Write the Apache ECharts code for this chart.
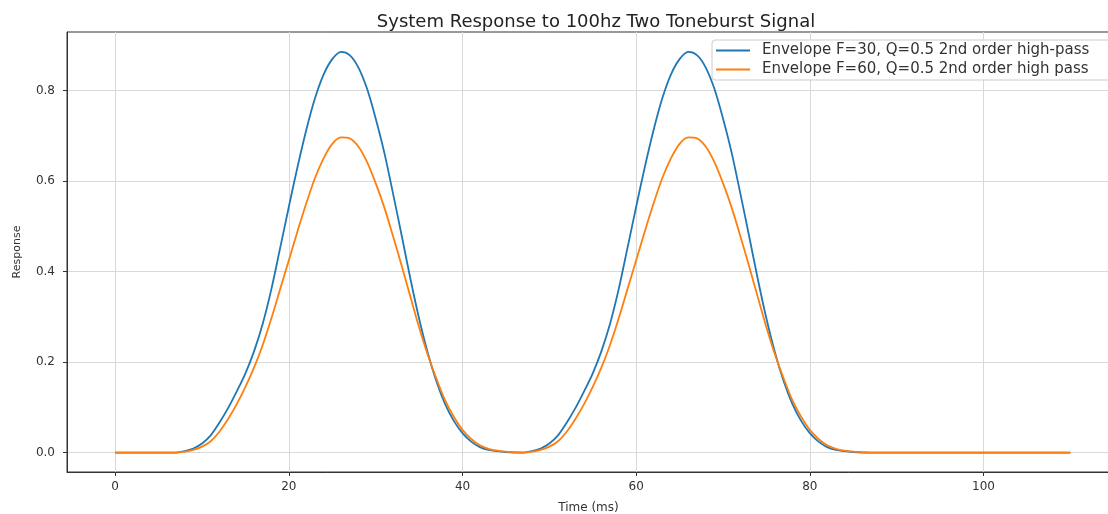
<!DOCTYPE html>
<html>
<head>
<meta charset="utf-8">
<script src="https://cdn.jsdelivr.net/npm/echarts@6/dist/echarts.min.js"></script>
<style>
  html, body { margin: 0; padding: 0; background: #fff; }
  #chart { width: 1108px; height: 514px; }
</style>
</head>
<body>
<div id="chart"></div>
<script>
// Time samples (ms)
const timeMs = [0, 4, 7,
  8, 9, 10, 11, 12, 13, 14, 15, 16, 17, 18, 19, 20, 21, 22, 23, 24, 25, 26, 27,
  28, 29, 30, 31, 32, 33, 34, 35, 36, 37, 38, 39, 40, 41, 42, 43, 44, 45, 46, 47,
  48, 49, 50, 51, 52, 53, 54, 55, 56, 57, 58, 59, 60, 61, 62, 63, 64, 65, 66, 67,
  68, 69, 70, 71, 72, 73, 74, 75, 76, 77, 78, 79, 80, 81, 82, 83, 84, 85, 86, 87,
  95, 110];

// Envelope F=30, Q=0.5 2nd order high-pass
const blueResp = [0, 0, 0,
  0.003, 0.009, 0.02, 0.038, 0.066, 0.098, 0.135, 0.175, 0.224, 0.285, 0.362, 0.452, 0.543, 0.631, 0.712, 0.782, 0.835, 0.869, 0.885, 0.878,
  0.851, 0.804, 0.738, 0.662, 0.572, 0.479, 0.384, 0.296, 0.22, 0.157, 0.107, 0.07, 0.043, 0.024, 0.012, 0.006, 0.003, 0.001, 0, 0,
  0.003, 0.009, 0.02, 0.038, 0.066, 0.098, 0.135, 0.175, 0.224, 0.285, 0.362, 0.452, 0.543, 0.631, 0.712, 0.782, 0.835, 0.869, 0.885, 0.878,
  0.851, 0.804, 0.738, 0.662, 0.572, 0.479, 0.384, 0.296, 0.22, 0.157, 0.107, 0.07, 0.043, 0.024, 0.012, 0.006, 0.003, 0.001, 0, 0,
  0, 0];

// Envelope F=60, Q=0.5 2nd order high pass
const orangeResp = [0, 0, 0,
  0.002, 0.006, 0.013, 0.025, 0.046, 0.074, 0.107, 0.145, 0.188, 0.238, 0.297, 0.361, 0.425, 0.489, 0.55, 0.606, 0.65, 0.682, 0.696, 0.694,
  0.676, 0.642, 0.595, 0.541, 0.478, 0.412, 0.344, 0.277, 0.216, 0.163, 0.115, 0.079, 0.05, 0.03, 0.016, 0.008, 0.004, 0.002, 0.001, 0,
  0.002, 0.006, 0.013, 0.025, 0.046, 0.074, 0.107, 0.145, 0.188, 0.238, 0.297, 0.361, 0.425, 0.489, 0.55, 0.606, 0.65, 0.682, 0.696, 0.694,
  0.676, 0.642, 0.595, 0.541, 0.478, 0.412, 0.344, 0.277, 0.216, 0.163, 0.115, 0.079, 0.05, 0.03, 0.016, 0.008, 0.004, 0.002, 0.001, 0,
  0, 0];

const xTicks = [0, 20, 40, 60, 80, 100];
const yTicks = [0, 0.2, 0.4, 0.6, 0.8];

const seriesNames = [
  'Envelope F=30, Q=0.5 2nd order high-pass',
  'Envelope F=60, Q=0.5 2nd order high pass'
];
const titleText = 'System Response to 100hz Two Toneburst Signal';

const chart = echarts.init(document.getElementById('chart'), null, { renderer: 'canvas' });

const toPairs = (vals) => timeMs.map((t, i) => [t, vals[i]]);

const option = {
  animation: false,
  backgroundColor: '#ffffff',
  textStyle: { fontFamily: 'DejaVu Sans' },
  title: {
    text: titleText,
    left: 591,
    textAlign: 'center',
    top: 8,
    textStyle: { fontFamily: 'DejaVu Sans', fontSize: 18, fontWeight: 'normal', color: '#222' }
  },
  grid: {
    left: 67, top: 32, right: -2, bottom: 42,
    containLabel: false,
    outerBoundsMode: 'none',
    show: true, borderColor: '#333', borderWidth: 1, backgroundColor: 'transparent'
  },
  legend: {
    orient: 'vertical',
    left: 712, top: 40,
    icon: 'rect',
    itemWidth: 34, itemHeight: 2, itemGap: 4,
    padding: [3, 24, 3, 4],
    backgroundColor: 'rgba(255,255,255,0.85)',
    borderColor: '#cccccc', borderWidth: 1, borderRadius: 3,
    textStyle: { fontFamily: 'DejaVu Sans', fontSize: 15, color: '#333', padding: [0, 0, 0, 7] },
    data: seriesNames
  },
  xAxis: {
    type: 'value',
    min: -5.55, max: 114.57,
    name: 'Time (ms)',
    nameLocation: 'middle',
    nameGap: 30,
    nameTextStyle: { fontFamily: 'DejaVu Sans', fontSize: 12, color: '#333' },
    axisLine: { show: true, onZero: false, lineStyle: { color: '#333', width: 1 } },
    axisTick: { show: true, inside: false, length: 4, lineStyle: { color: '#333' }, customValues: xTicks },
    axisLabel: { customValues: xTicks, fontSize: 12, color: '#333', margin: 9 },
    splitLine: { show: true, lineStyle: { color: '#d9d9d9', width: 1 } }
  },
  yAxis: {
    type: 'value',
    min: -0.043, max: 0.929,
    name: 'Response',
    nameLocation: 'middle',
    nameGap: 44,
    nameRotate: 90,
    nameTextStyle: { fontFamily: 'DejaVu Sans', fontSize: 11, color: '#333' },
    axisLine: { show: true, onZero: false, lineStyle: { color: '#333', width: 1 } },
    axisTick: { show: true, inside: false, length: 4, lineStyle: { color: '#333' }, customValues: yTicks },
    axisLabel: {
      customValues: yTicks, fontSize: 12, color: '#333', margin: 12,
      formatter: (v) => v.toFixed(1)
    },
    splitLine: { show: true, lineStyle: { color: '#d9d9d9', width: 1 } }
  },
  series: [
    {
      name: seriesNames[0], type: 'line', data: toPairs(blueResp),
      symbol: 'none', showSymbol: false, smooth: 0.3,
      lineStyle: { color: '#1f77b4', width: 1.8 }, itemStyle: { color: '#1f77b4' }
    },
    {
      name: seriesNames[1], type: 'line', data: toPairs(orangeResp),
      symbol: 'none', showSymbol: false, smooth: 0.3,
      lineStyle: { color: '#ff7f0e', width: 1.8 }, itemStyle: { color: '#ff7f0e' }
    }
  ]
};

chart.setOption(option);
</script>
</body>
</html>
